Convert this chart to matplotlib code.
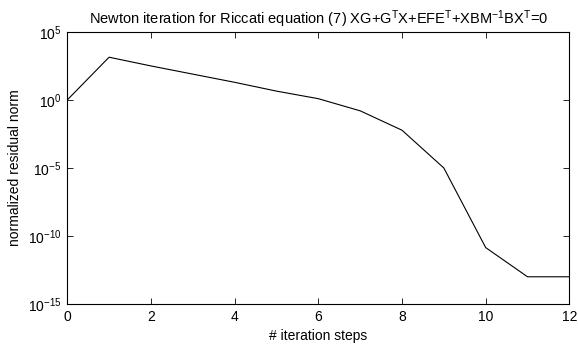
import matplotlib
matplotlib.use('Agg')
import matplotlib.pyplot as plt
from matplotlib.ticker import FixedLocator, NullLocator

# residual norms
steps = [0, 1, 2, 3, 4, 5, 6, 7, 8, 9, 10, 11, 12]
residual = [1.0, 1.4e3, 3.2e2, 8.0e1, 2.0e1, 4.5, 1.25, 1.6e-1, 6.0e-3,
            1.0e-5, 1.4e-11, 1.0e-13, 1.0e-13]
x_ticks = [0, 2, 4, 6, 8, 10, 12]
y_ticks = [1e-15, 1e-10, 1e-5, 1e0, 1e5]

plt.rcParams['font.family'] = ['Liberation Sans', 'DejaVu Sans']
plt.rcParams['mathtext.default'] = 'regular'

fig = plt.figure(figsize=(5.78, 3.49), dpi=100)
ax = fig.add_axes([0.1163, 0.129, 0.8688, 0.7793])

ax.semilogy(steps, residual, color='black', linewidth=0.8)

ax.set_xlim(0, 12)
ax.set_ylim(1e-15, 1e5)
ax.xaxis.set_major_locator(FixedLocator(x_ticks))
ax.yaxis.set_major_locator(FixedLocator(y_ticks))
ax.yaxis.set_minor_locator(NullLocator())
ax.tick_params(direction='in', top=True, right=True, length=4, width=0.6,
               labelsize=10, pad=4)
for s in ax.spines.values():
    s.set_linewidth(0.8)

ax.set_xlabel('# iteration steps', fontsize=10)
ax.set_ylabel('normalized residual norm', fontsize=10)
ax.set_title(r'Newton iteration for Riccati equation (7) '
             r'$XG{+}G^TX{+}EFE^T{+}XBM^{-1}BX^T$=0', fontsize=10.5)

fig.savefig('out.png', dpi=100)
